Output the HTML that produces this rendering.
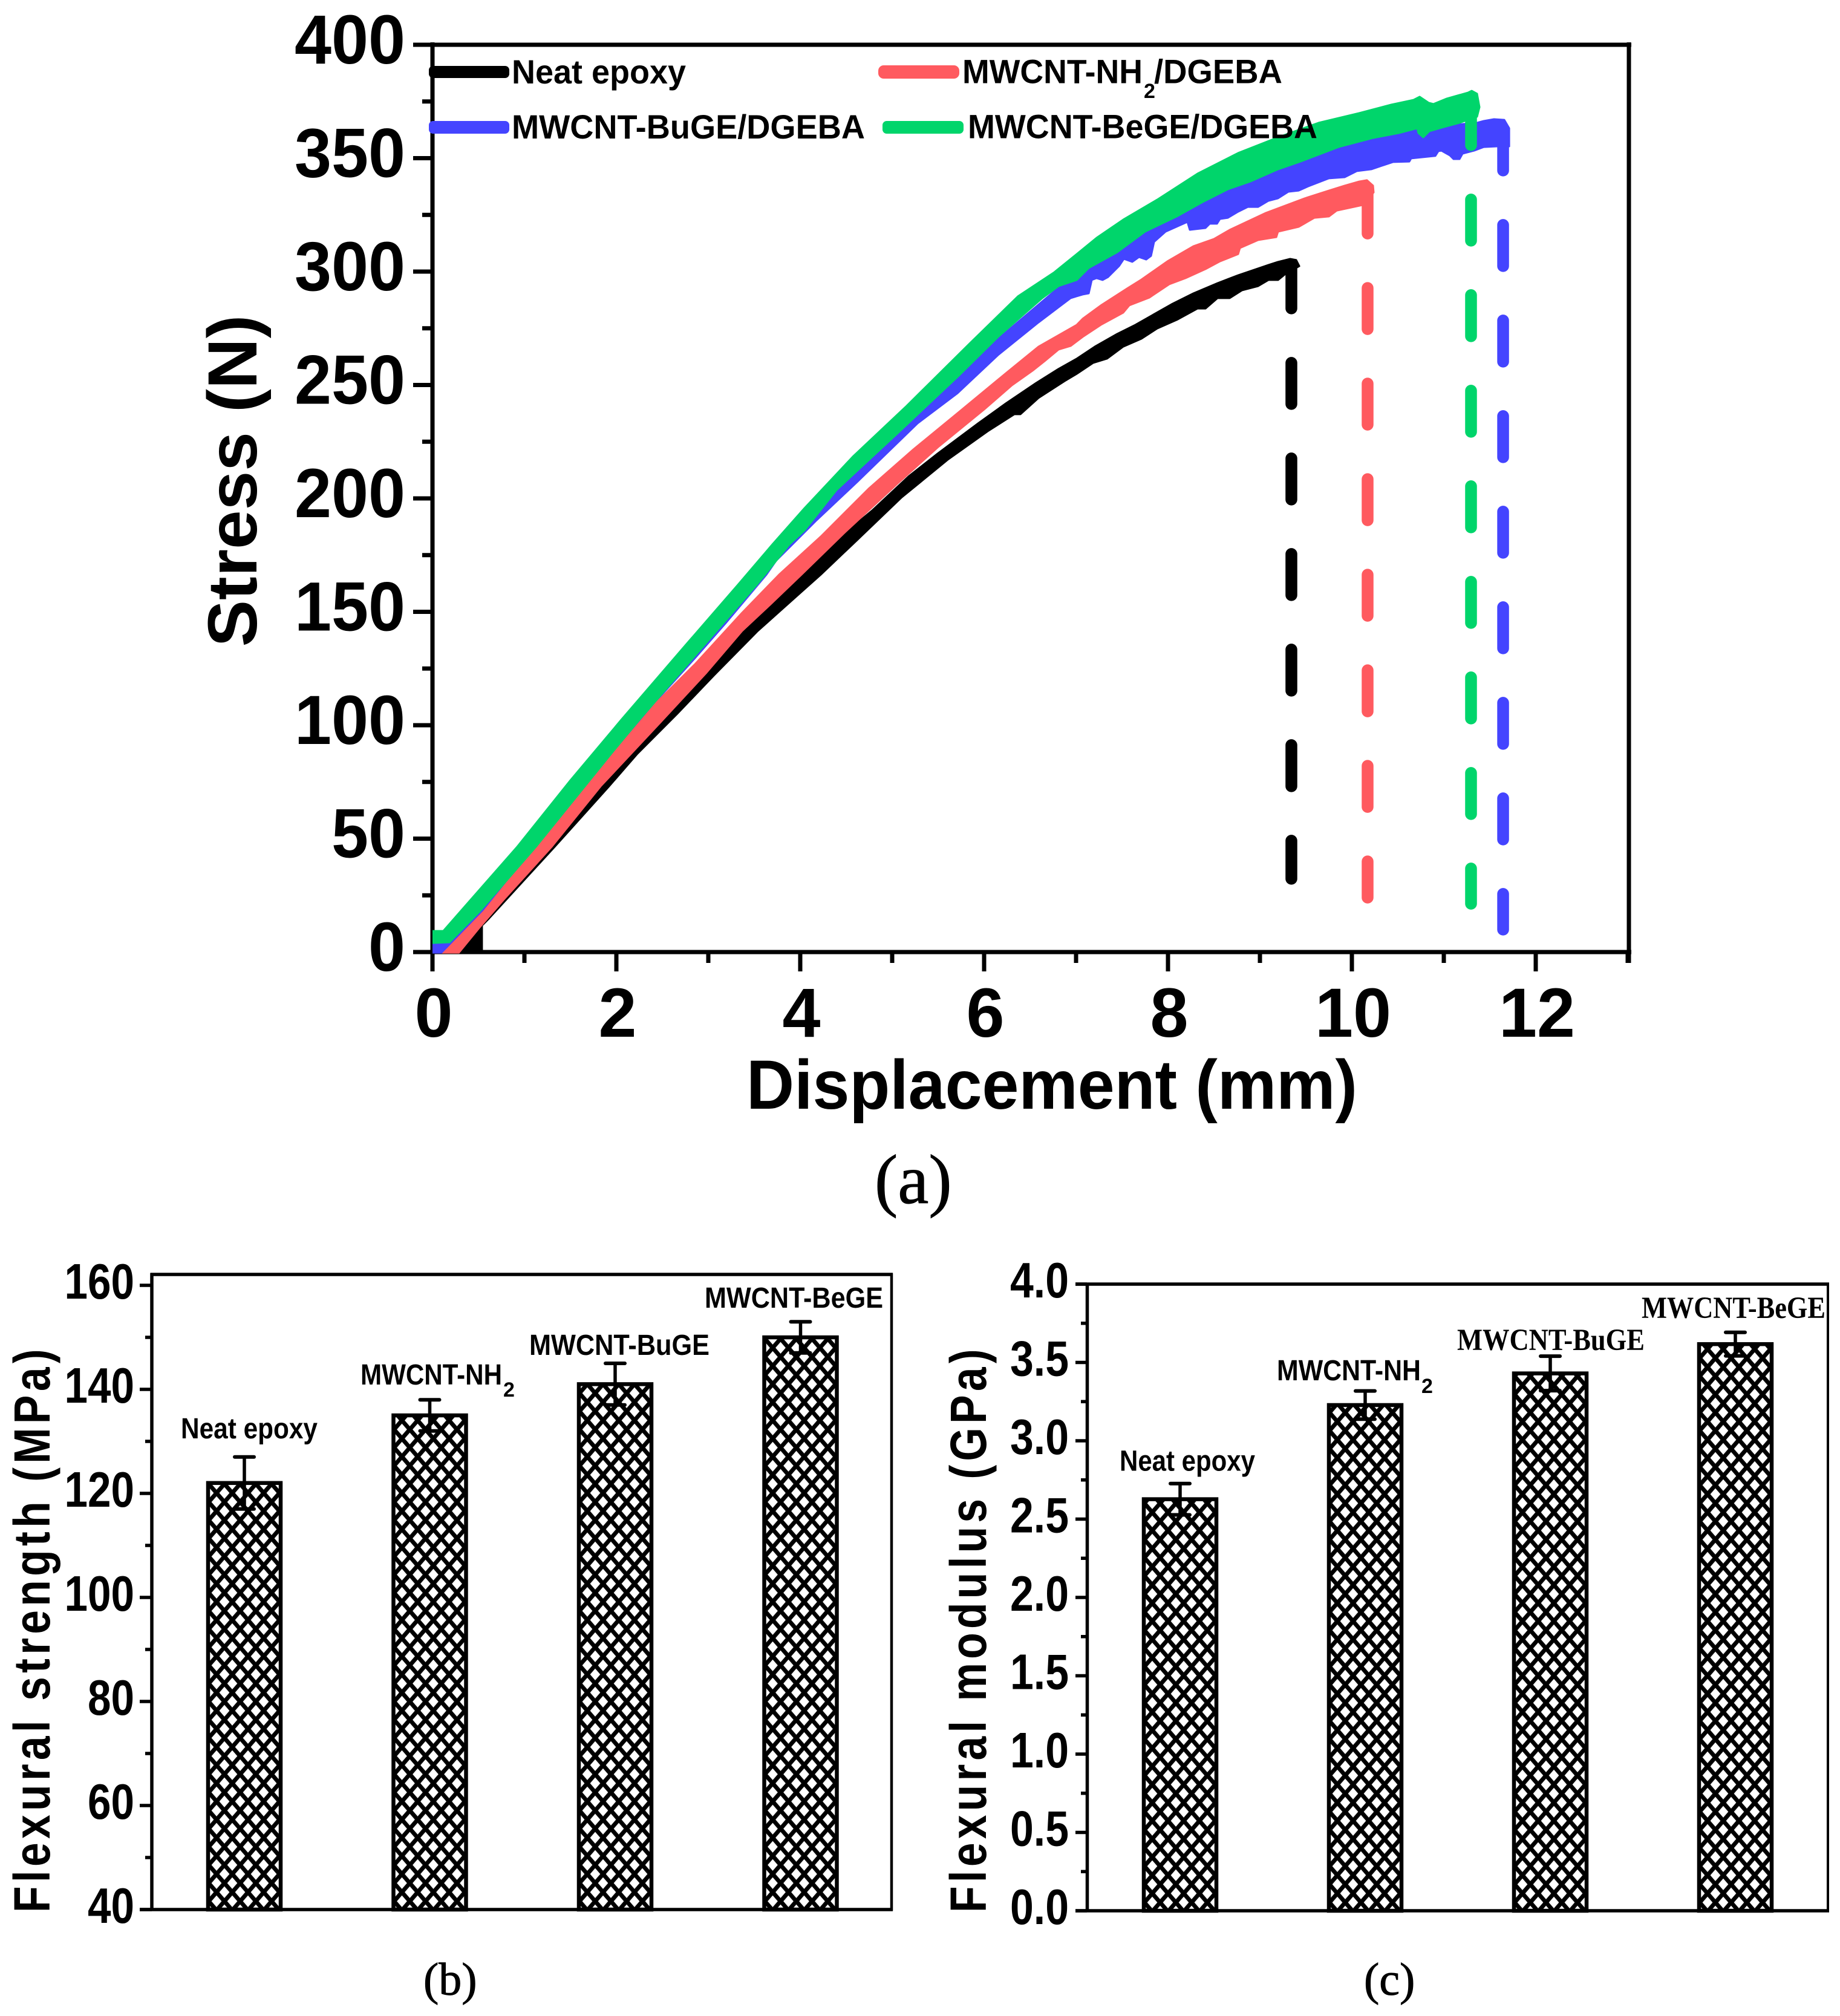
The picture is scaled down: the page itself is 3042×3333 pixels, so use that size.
<!DOCTYPE html>
<html lang="en">
<head>
<meta charset="utf-8">
<title>Flexural properties of MWCNT/DGEBA composites</title>
<style>
html,body{margin:0;padding:0;background:#fff;}
svg{display:block;}
text{fill:#000;}
.sans{font-family:"Liberation Sans",sans-serif;font-weight:bold;}
.serif{font-family:"Liberation Serif",serif;stroke:#000;stroke-width:1;}
.serifb{font-family:"Liberation Serif",serif;font-weight:bold;}
</style>
</head>
<body>
<svg id="figure" xmlns="http://www.w3.org/2000/svg" width="3042" height="3333" viewBox="0 0 3042 3333">
  <defs id="defs">
    <clipPath id="plot-clip"><rect x="715" y="0" width="2000" height="1576.5"/></clipPath>
  </defs>
  <rect x="0" y="0" width="3042" height="3333" fill="#fff"/>

  <g id="chart-a">
    <g id="axes-a"></g>
    <g id="curves" clip-path="url(#plot-clip)"></g>
    <g id="drops"></g>
    <text class="sans" transform="translate(424,795) rotate(-90)" text-anchor="middle" font-size="115" textLength="549" lengthAdjust="spacingAndGlyphs">Stress (N)</text>
    <text class="sans" x="1739" y="1833" text-anchor="middle" font-size="115" textLength="1010" lengthAdjust="spacingAndGlyphs">Displacement (mm)</text>

    <g>
      <rect x="709" y="109" width="133" height="20" rx="7" fill="#000"/>
      <text class="sans" x="846" y="138" font-size="56" textLength="288" lengthAdjust="spacingAndGlyphs">Neat epoxy</text>
      <rect x="709" y="200" width="133" height="21" rx="7" fill="#4444FF"/>
      <text class="sans" x="846" y="229" font-size="56" textLength="584" lengthAdjust="spacingAndGlyphs">MWCNT-BuGE/DGEBA</text>
      <rect x="1452" y="108" width="134" height="22" rx="9" fill="#FF5A5F"/>
      <text class="sans" x="1591" y="137.5" font-size="56" textLength="298" lengthAdjust="spacingAndGlyphs">MWCNT-NH</text>
      <text class="sans" x="1891" y="162" font-size="34">2</text>
      <text class="sans" x="1908" y="137.5" font-size="56" textLength="212" lengthAdjust="spacingAndGlyphs">/DGEBA</text>
      <rect x="1459" y="200" width="134" height="21" rx="7" fill="#00D56B"/>
      <text class="sans" x="1600" y="228.6" font-size="56" textLength="578" lengthAdjust="spacingAndGlyphs">MWCNT-BeGE/DGEBA</text>
    </g>
    <text class="serif" x="1446" y="1989" font-size="115">(a)</text>
  </g>

  <g id="chart-b">
    <g id="axes-b"></g>
    <g id="bars-b"></g>
    <text class="sans" transform="translate(82,3162) rotate(-90) scale(.85,1)" font-size="84" textLength="1096" lengthAdjust="spacing">Flexural strength (MPa)</text>
    <text class="sans" x="299" y="2378" font-size="48" textLength="226" lengthAdjust="spacingAndGlyphs">Neat epoxy</text>
    <text class="sans" x="596" y="2289" font-size="48" textLength="234" lengthAdjust="spacingAndGlyphs">MWCNT-NH</text>
    <text class="sans" x="832" y="2309" font-size="34">2</text>
    <text class="sans" x="875" y="2240" font-size="48" textLength="298" lengthAdjust="spacingAndGlyphs">MWCNT-BuGE</text>
    <text class="sans" x="1165" y="2162" font-size="48" textLength="295" lengthAdjust="spacingAndGlyphs">MWCNT-BeGE</text>
    <text class="serif" x="700" y="3298" font-size="76">(b)</text>
  </g>

  <g id="chart-c">
    <g id="axes-c"></g>
    <g id="bars-c"></g>
    <text class="sans" transform="translate(1630,3162) rotate(-90) scale(.85,1)" font-size="84" textLength="1096" lengthAdjust="spacing">Flexural modulus (GPa)</text>
    <text class="sans" x="1851" y="2431.5" font-size="48" textLength="224" lengthAdjust="spacingAndGlyphs">Neat epoxy</text>
    <text class="sans" x="2111" y="2282" font-size="48" textLength="238" lengthAdjust="spacingAndGlyphs">MWCNT-NH</text>
    <text class="sans" x="2350" y="2303" font-size="34">2</text>
    <text class="serifb" x="2409" y="2232" font-size="51" textLength="310" lengthAdjust="spacingAndGlyphs">MWCNT-BuGE</text>
    <text class="serifb" x="2714" y="2179" font-size="51" textLength="304" lengthAdjust="spacingAndGlyphs">MWCNT-BeGE</text>
    <text class="serif" x="2255" y="3298" font-size="76">(c)</text>
  </g>
</svg>

<script>
// ---- Panel (a) tick labels ----
const stressTicks = ["0","50","100","150","200","250","300","350","400"];
const stressMinorTicks = [25,75,125,175,225,275,325,375];
const dispTicks = ["0","2","4","6","8","10","12"];
const dispMinorTicks = [1,3,5,7,9,11,13];

// ---- Panel (a) series: upper and lower envelopes of the noisy traces ----
const greenUpperDisp = [0,.118,.921,1.5,2.053,2.75,3.322,3.697,4.046,4.572,5.145,5.842,6.368,6.763,7.007,7.224,7.513,7.882,8.322,8.763,9.197,9.638,10.079,10.428,10.671,10.737,10.836,10.888,11.033,11.263,11.303,11.362,11.388];
const greenUpperStress = [9.3,9.3,46.4,75.7,102.4,135.2,161.9,179.7,195.7,218.4,240.3,268.3,289.1,299.7,307.7,314.9,322.9,331.7,343.2,352.3,359.2,365.6,369.9,373.6,375.7,377.1,374.4,373.9,376.3,378.9,379.7,378.4,372.5];
const greenLowerDisp = [0,.184,.513,1.125,1.961,2.25,3.526,3.882,4.046,4.395,5.053,5.711,6.151,6.632,6.809,7.007,7.138,7.447,7.75,8.105,8.388,8.651,8.895,9.197,9.441,9.855,10.23,10.513,10.711,10.724,10.776,10.842,11,11.171,11.362];
const greenLowerStress = [4,4.3,17.9,46.4,88.3,102.4,161.9,179.7,185.9,203.7,228.5,253.6,271.2,288.3,293.6,296.3,301.6,308.5,317.6,324.5,330.9,336.3,339.7,345.1,348.5,354.9,358.9,361.1,363.2,361.1,359.2,361.9,363.7,365.6,368.3];

const blueUpperDisp = [0,.118,.921,1.5,2.053,2.75,3.697,4.572,5.842,7.007,8.763,10.428,11.362,11.434,11.546,11.658,11.711];
const blueUpperStress = [7.7,9,46.1,75.4,102.1,134.9,174.4,210.4,259.7,299.7,342.4,362.4,365.6,366.4,367.2,366.9,363.2];
const blueLowerDisp = [0,.112,.559,1.138,2.27,2.487,2.862,3.191,3.632,3.737,4.178,4.618,5.276,5.711,6.151,6.592,6.941,7.072,7.138,7.171,7.224,7.289,7.349,7.467,7.52,7.612,7.684,7.763,7.816,7.849,7.974,8.211,8.237,8.408,8.454,8.533,8.566,8.651,8.763,8.868,8.98,9.092,9.197,9.309,9.421,9.526,9.75,9.921,10.053,10.211,10.447,10.625,10.645,10.908,10.941,10.974,11.066,11.105,11.171,11.204,11.329,11.434,11.579,11.711];
const blueLowerStress = [-.8,-.8,17.9,46.4,102.4,113.1,129.9,145.1,166.4,172.5,190.4,207.2,233.1,246.4,263.2,277.6,288.3,289.9,290.4,296.3,297.1,296.3,297.6,302.4,305.6,304.3,306.4,305.3,306.9,313.1,317.6,321.9,318.4,319.2,321.1,321.1,323.2,323.7,326.4,328.5,328.5,331.2,332.3,335.2,335.7,337.6,341.1,341.6,344.3,345.1,348.3,348.5,349.9,351,353.1,353.3,351.2,349.6,349.6,352,353.3,354.9,355.2,355.2];

const redUpperDisp = [.112,.559,1.125,1.566,1.961,2.447,2.862,3.368,3.77,4.224,4.75,5.23,5.711,6.237,6.592,7.007,7.072,7.27,7.553,7.711,7.993,8.276,8.5,8.671,9.066,9.329,9.487,9.75,9.921,10.079,10.164,10.23,10.237];
const redUpperStress = [-.8,17.9,46.4,68.5,87.2,110.4,127.2,149.6,166.4,183.2,204.5,221.6,237.6,255.2,266.9,276.5,279.2,285.1,292.5,296.5,304.5,311.2,314.4,318.4,325.9,329.9,332.3,335.7,337.9,339.7,340.3,337.9,334.9];
const redLowerDisp = [.276,.513,.776,1.296,1.829,2.487,2.974,3.368,3.671,4.013,4.487,5.053,5.493,6,6.303,6.526,6.658,6.809,6.941,7.072,7.27,7.513,7.579,7.796,8.013,8.191,8.408,8.566,8.763,8.783,8.98,9.178,9.197,9.421,9.592,9.75,9.836,10.112];
const redLowerStress = [-.8,10.9,23.2,46.4,73.1,101.6,122.9,141.6,153.1,166.4,185.1,206.4,222.4,239.2,249.9,256.3,260.5,265.6,267.2,271.2,276.5,281.9,285.1,288.5,294.4,297.1,301.1,304.5,307.7,310.4,313.9,315.2,317.6,319.7,323.7,324.3,326.9,329.3];

const neatUpperDisp = [.276,1.296,2.487,3.368,4.033,4.092,4.441,4.789,5.184,5.493,5.934,6.237,6.566,6.809,7.007,7.204,7.447,7.645,8.039,8.276,8.539,8.763,9.092,9.197,9.329,9.395,9.428];
const neatUpperStress = [-.8,47.7,102.4,142.4,166.4,170.9,183.2,194.9,209.9,219.7,233.1,241.9,250.9,257.1,261.6,266.9,272.5,276.5,285.6,290.4,294.9,298.4,302.9,304.3,305.6,305.1,302.4];
const neatLowerDisp = [.539,.539,.605,1.329,1.921,2.224,2.664,3.059,3.539,3.98,4.224,4.618,5.099,5.605,6.039,6.329,6.395,6.592,6.875,7.007,7.184,7.336,7.513,7.711,7.882,8.105,8.322,8.408,8.539,8.671,8.803,8.98,9.092,9.197,9.276];
const neatLowerStress = [-.8,11.7,14.4,46.4,73.1,87.2,105.1,121.9,141.6,157.6,166.4,181.6,200.3,217.1,229.6,237.1,237.1,244.3,251.7,254.9,259.7,261.6,266.9,270.4,274.9,278.9,283.7,283.7,288.3,288.3,291.7,293.6,296.3,296.3,298.9];

// Failure drop lines: displacement, stress at the top and at the bottom of the dashed line
const dropDisp = [9.342,10.171,11.645,11.296];
const dropTop = [301.9,334.9,362.7,373.9];
const dropBottom = [32.3,24,9.9,21.3];

// ---- Panel (b) ----
const strengthTicks = ["40","60","80","100","120","140","160"];
const strengthMinorTicks = [50,70,90,110,130,150];
const strengthValues = [122,135,141,150];
const strengthErrors = [5,3,4,3];

// ---- Panel (c) ----
const modulusTicks = ["0.0","0.5","1.0","1.5","2.0","2.5","3.0","3.5","4.0"];
const modulusMinorTicks = [.25,.75,1.25,1.75,2.25,2.75,3.25,3.75];
const modulusValues = [2.627,3.228,3.43,3.617];
const modulusErrors = [.1,.09,.11,.075];

const categories = ["neat-epoxy","mwcnt-nh2","mwcnt-buge","mwcnt-bege"];

// ---- Axis functions ----
function xA(mm){ return 715 + 152*mm; }
function yA(n){ return 1574 - 3.75*n; }
function yB(v){ return 3157 - 8.6*(v-40); }
function yC(v){ return 3159 - 259*v; }
function barCenterB(i){ return 404 + 306.5*i; }
function barCenterC(i){ return 1951 + 306*i; }

const NS = "http://www.w3.org/2000/svg";
function mk(tag, parent){
  const e = document.createElementNS(NS, tag);
  parent.appendChild(e);
  return e;
}
function seg(parent, x1, y1, x2, y2, w, color){
  const l = mk("line", parent);
  l.setAttribute("x1", x1);
  l.setAttribute("y1", y1);
  l.setAttribute("x2", x2);
  l.setAttribute("y2", y2);
  l.setAttribute("stroke", color || "#000");
  l.setAttribute("stroke-width", w);
  return l;
}
function label(parent, str, x, y, size, anchor, len){
  const t = mk("text", parent);
  t.setAttribute("class", "sans");
  t.setAttribute("x", x);
  t.setAttribute("y", y);
  t.setAttribute("font-size", size);
  t.setAttribute("text-anchor", anchor);
  t.setAttribute("textLength", len);
  t.setAttribute("lengthAdjust", "spacingAndGlyphs");
  t.textContent = str;
  return t;
}

// ---- Panel (a) axes ----
(function(){
  const g = document.getElementById("axes-a");
  let el;
  el = seg(g, 685, yA(400), 2697, yA(400), 7);
  
  
  el = seg(g, xA(0), 70, xA(0), 1606, 7);
  
  
  el = seg(g, 683, yA(0), 2697, yA(0), 7);
  
  
  el = seg(g, 2693, 70, 2693, 1592, 7);
  
  
  stressTicks.forEach(function(s){
    const v = parseFloat(s);
    const tick = seg(g, 683, yA(v), 715, yA(v), 7);
    
    
    const tl = label(g, s, 670, yA(v)+31, 115, "end", s.length*61);
    
    
  });
  stressMinorTicks.forEach(function(v){
    const tick = seg(g, 698, yA(v), 715, yA(v), 7);
    
    
  });
  dispTicks.forEach(function(s){
    const v = parseFloat(s);
    const tick = seg(g, xA(v), 1574, xA(v), 1606, 7);
    
    
    const tl = label(g, s, xA(v)+2, 1714, 115, "middle", s.length*63);
    
    
  });
  dispMinorTicks.forEach(function(v){
    const tick = seg(g, xA(v), 1574, xA(v), 1592, 7);
    
    
  });
})();

// ---- Panel (a) curves ----
function bandPoints(upD, upS, loD, loS){
  const pts = [];
  upD.forEach(function(d, i){ pts.push(xA(d).toFixed(1) + "," + yA(upS[i]).toFixed(1)); });
  for (let i = loD.length - 1; i >= 0; i--){
    pts.push(xA(loD[i]).toFixed(1) + "," + yA(loS[i]).toFixed(1));
  }
  return pts.join(" ");
}
(function(){
  const curves = document.getElementById("curves");
  const drops = document.getElementById("drops");
  function draw(points, color, idx, name){
    const band = mk("polygon", curves);
    band.setAttribute("points", points);
    band.setAttribute("fill", color);
    band.setAttribute("stroke", color);
    band.setAttribute("stroke-width", 3);
    band.setAttribute("stroke-linejoin", "round");
    
    
    const d = seg(drops, xA(dropDisp[idx]), yA(dropTop[idx]), xA(dropDisp[idx]), yA(dropBottom[idx]), 19.5, color);
    d.setAttribute("stroke-linecap", "round");
    d.setAttribute("stroke-dasharray", "68 90");
    
    
  }
  draw(bandPoints(neatUpperDisp, neatUpperStress, neatLowerDisp, neatLowerStress), "#000000", 0, "neat-epoxy");
  draw(bandPoints(blueUpperDisp, blueUpperStress, blueLowerDisp, blueLowerStress), "#4444FF", 2, "mwcnt-buge");
  draw(bandPoints(redUpperDisp, redUpperStress, redLowerDisp, redLowerStress), "#FF5A5F", 1, "mwcnt-nh2");
  draw(bandPoints(greenUpperDisp, greenUpperStress, greenLowerDisp, greenLowerStress), "#00D56B", 3, "mwcnt-bege");
})();

// ---- Bar panels ----
function hatch(id, left, baseline){
  const defs = document.getElementById("defs");
  const p = mk("pattern", defs);
  p.setAttribute("id", id);
  p.setAttribute("patternUnits", "userSpaceOnUse");
  p.setAttribute("width", 26);
  p.setAttribute("height", 30);
  p.setAttribute("patternTransform", "translate(" + (left + 17) + "," + (baseline - 13.7) + ")");
  const bg = mk("rect", p);
  bg.setAttribute("width", 26);
  bg.setAttribute("height", 30);
  bg.setAttribute("fill", "#fff");
  seg(p, 13, 0, 0, 15, 7);
  seg(p, 13, 0, 26, 15, 7);
  seg(p, 0, 15, 13, 30, 7);
  seg(p, 26, 15, 13, 30, 7);
}
function bars(groupId, prefix, values, errors, yFn, centerFn, baseline){
  const g = document.getElementById(groupId);
  values.forEach(function(v, i){
    const c = centerFn(i);
    const id = prefix + "-hatch-" + i;
    hatch(id, c - 63, baseline);
    const r = mk("rect", g);
    r.setAttribute("x", c - 60);
    r.setAttribute("y", yFn(v));
    r.setAttribute("width", 120);
    r.setAttribute("height", baseline - yFn(v));
    r.setAttribute("fill", "url(#" + id + ")");
    r.setAttribute("stroke", "#000");
    r.setAttribute("stroke-width", 6.5);
    
    
    const hi = yFn(v + errors[i]);
    const lo = yFn(v - errors[i]);
    const stem = seg(g, c, hi, c, lo, 5.5);
    
    
    const capHi = seg(g, c - 16, hi, c + 16, hi, 6);
    capHi.setAttribute("stroke-linecap", "round");
    
    
    const capLo = seg(g, c - 16, lo, c + 16, lo, 6);
    capLo.setAttribute("stroke-linecap", "round");
    
    
  });
}
(function(){
  const g = document.getElementById("axes-b");
  let el;
  el = seg(g, 248.5, 2107, 1476, 2107, 5.5);
  
  
  el = seg(g, 251, 2105, 251, 3159, 5.5);
  
  
  el = seg(g, 231, yB(40), 1476, yB(40), 5.5);
  
  
  el = seg(g, 1474, 2105, 1474, 3159, 4.5);
  
  
  strengthTicks.forEach(function(s){
    const v = parseFloat(s);
    const tick = seg(g, 231, yB(v), 251, yB(v), 5.5);
    
    
    const tl = label(g, s, 222, yB(v)+22, 83, "end", s.length*38.5);
    
    
  });
  strengthMinorTicks.forEach(function(v){
    const tick = seg(g, 240, yB(v), 251, yB(v), 5.5);
    
    
  });
  bars("bars-b", "b", strengthValues, strengthErrors, yB, barCenterB, yB(40));
})();
(function(){
  const g = document.getElementById("axes-c");
  let el;
  el = seg(g, 1778, 2123, 3024, 2123, 5.5);
  
  
  el = seg(g, 1797.5, 2121, 1797.5, 3161, 5.5);
  
  
  el = seg(g, 1778, yC(0), 3024, yC(0), 5.5);
  
  
  el = seg(g, 3022, 2121, 3022, 3161, 4);
  
  
  modulusTicks.forEach(function(s){
    const v = parseFloat(s);
    const tick = seg(g, 1778, yC(v), 1797, yC(v), 5.5);
    
    
    const tl = label(g, s, 1767, yC(v)+22, 83, "end", 97);
    
    
  });
  modulusMinorTicks.forEach(function(v){
    const tick = seg(g, 1787, yC(v), 1797, yC(v), 5.5);
    
    
  });
  bars("bars-c", "c", modulusValues, modulusErrors, yC, barCenterC, yC(0));
})();
</script>
</body>
</html>
